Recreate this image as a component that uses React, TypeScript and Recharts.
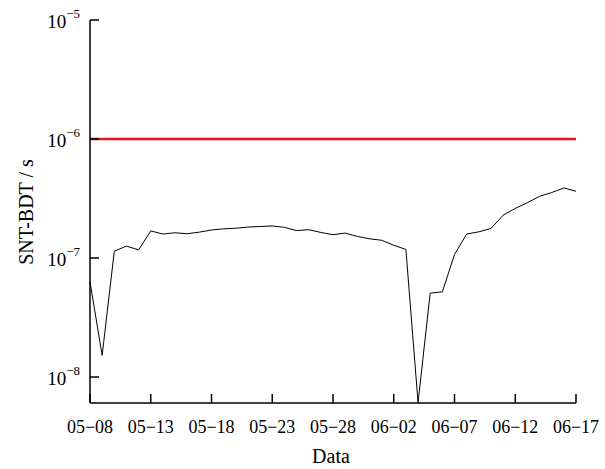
import { CartesianGrid, Line, LineChart, ReferenceLine, XAxis, YAxis } from "recharts";

const dates = [
  "05−08", "05−09", "05−10", "05−11", "05−12", "05−13", "05−14", "05−15", "05−16", "05−17",
  "05−18", "05−19", "05−20", "05−21", "05−22", "05−23", "05−24", "05−25", "05−26", "05−27",
  "05−28", "05−29", "05−30", "05−31", "06−01", "06−02", "06−03", "06−04", "06−05", "06−06",
  "06−07", "06−08", "06−09", "06−10", "06−11", "06−12", "06−13", "06−14", "06−15", "06−16",
  "06−17",
];

const sntBdt = [
  6.3e-8, 1.52e-8, 1.14e-7, 1.26e-7, 1.17e-7, 1.69e-7, 1.59e-7, 1.63e-7, 1.6e-7, 1.65e-7,
  1.72e-7, 1.76e-7, 1.78e-7, 1.82e-7, 1.84e-7, 1.86e-7, 1.81e-7, 1.7e-7, 1.73e-7, 1.64e-7,
  1.57e-7, 1.62e-7, 1.52e-7, 1.45e-7, 1.41e-7, 1.28e-7, 1.18e-7, 6.1e-9, 5.07e-8, 5.2e-8,
  1.07e-7, 1.59e-7, 1.66e-7, 1.77e-7, 2.29e-7, 2.61e-7, 2.92e-7, 3.3e-7, 3.55e-7, 3.88e-7,
  3.64e-7,
];

const yTicks = [1e-8, 1e-7, 1e-6, 1e-5];
const threshold = 1e-6;

const data = dates.map((date, i) => ({ date, value: sntBdt[i] }));

const serif = { fontFamily: "'Liberation Serif', 'Times New Roman', serif" };

const XTick = ({ x, y, payload }: any) => (
  <text x={x} y={y + 30} textAnchor="middle" fontSize={18} style={serif} fill="#000">
    {payload.value}
  </text>
);

const YTick = ({ x, y, payload }: any) => {
  const exp = Math.round(Math.log10(payload.value));
  return (
    <text x={x - 10} y={y + 8} textAnchor="end" fontSize={19} style={serif} fill="#000">
      <tspan>10</tspan>
      <tspan dy={-10} fontSize={13}>{"−" + Math.abs(exp)}</tspan>
    </text>
  );
};

const YTitle = () => (
  <text transform="translate(33,212) rotate(-90)" textAnchor="middle" fontSize={20} style={serif} fill="#000">
    SNT-BDT / s
  </text>
);

const XTitle = () => (
  <text x={331} y={463} textAnchor="middle" fontSize={20} style={serif} fill="#000">
    Data
  </text>
);

export default function App() {
  return (
    <div style={{ position: "absolute", left: 0, top: 0, background: "#fff" }}>
      <LineChart width={605} height={469} data={data} margin={{ top: 20, right: 29, left: 0, bottom: 0 }}>
        <CartesianGrid stroke="none" />
        <XAxis
          dataKey="date"
          height={66}
          interval={4}
          tickSize={-9}
          tickMargin={9}
          tick={<XTick />}
          axisLine={{ stroke: "#000", strokeWidth: 1.5 }}
          tickLine={{ stroke: "#000", strokeWidth: 1.5 }}
          label={{ content: () => <XTitle /> }}
        />
        <YAxis
          type="number"
          scale="log"
          domain={[6.05e-9, 1e-5]}
          allowDataOverflow
          ticks={yTicks}
          width={90}
          tickSize={-9}
          tickMargin={9}
          tick={<YTick />}
          axisLine={{ stroke: "#000", strokeWidth: 1.5 }}
          tickLine={{ stroke: "#000", strokeWidth: 1.5 }}
          label={{ content: () => <YTitle /> }}
        />
        <ReferenceLine y={threshold} stroke="#e8141b" strokeWidth={2.5} />
        <Line
          type="linear"
          dataKey="value"
          stroke="#000"
          strokeWidth={1}
          dot={false}
          isAnimationActive={false}
        />
      </LineChart>
    </div>
  );
}
